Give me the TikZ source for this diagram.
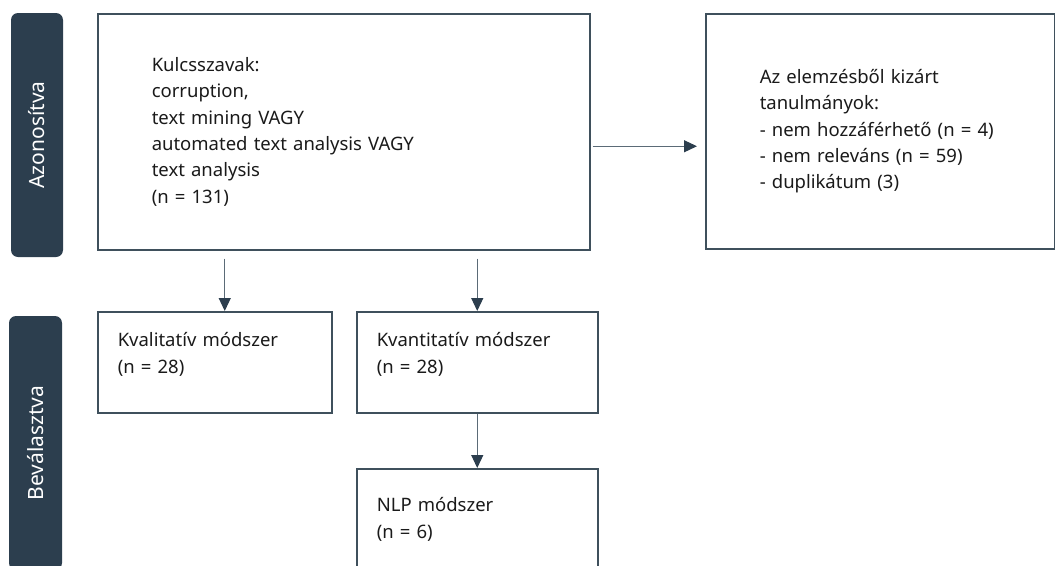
\documentclass[tikz,border=0pt]{standalone}
\usepackage{fontspec}
\setmainfont{Noto Sans}
\usetikzlibrary{arrows.meta}
\definecolor{navy}{HTML}{2C3E4E}
\definecolor{boxc}{HTML}{3F505C}
\definecolor{linec}{HTML}{5B6B77}
\definecolor{txt}{HTML}{1A1A1A}
\begin{document}
\begin{tikzpicture}[x=1pt,y=-1pt,
  box/.style={draw=boxc, line width=1.5pt, rectangle, anchor=north west, align=left, text=txt,
    font=\fontsize{18.5}{26.3}\selectfont},
  raised/.style={text height=14pt, text depth=45pt},
  bar/.style={fill=navy, rounded corners=7pt, text=white, rotate=90, font=\fontsize{21}{24}\selectfont},
  arr/.style={draw=linec, line width=1.2pt, -{Triangle[length=13pt,width=12pt,fill=navy,color=navy]}}
]
\useasboundingbox (0,0) rectangle (1055,565);
\clip (0,0) rectangle (1055,565);

\node[bar, minimum width=244pt, minimum height=52pt] (b1) at (37,135) {Azonosítva};
\node[bar, minimum width=254pt, minimum height=53pt] (b2) at (35.5,443) {Beválasztva};

\node[box, minimum width=492pt, minimum height=236pt, inner xsep=54pt, text width=384pt] (main) at (97,13)
  {Kulcsszavak:\\corruption,\\text mining VAGY\\automated text analysis VAGY\\text analysis\\(n = 131)};
\node[box, minimum width=349pt, minimum height=235pt, inner xsep=54pt, text width=241pt] (excl) at (705,13)
  {Az elemzésből kizárt\\tanulmányok:\\- nem hozzáférhető (n = 4)\\- nem releváns (n = 59)\\- duplikátum (3)};
\node[box, raised, minimum width=234pt, minimum height=101pt, inner xsep=20pt, text width=194pt] (kval) at (97,311)
  {Kvalitatív módszer\\(n = 28)};
\node[box, raised, minimum width=241pt, minimum height=101pt, inner xsep=20pt, text width=201pt] (kvant) at (356,311)
  {Kvantitatív módszer\\(n = 28)};
\node[box, minimum width=241pt, minimum height=101pt, inner xsep=20pt, text width=201pt] (nlp) at (356,468)
  {NLP módszer\\(n = 6)};

\coordinate (a1) at ([xshift=10pt]kval.north);
\coordinate (a2) at (kvant.north);
\coordinate (a3) at ([yshift=-15pt]excl.west);
\draw[arr, shorten <=8pt] (main.south -| a1) -- (a1);
\draw[arr, shorten <=8pt] (main.south -| a2) -- (a2);
\draw[arr, shorten >=8pt, shorten <=2pt] (main.east |- a3) -- (a3);
\draw[arr] (kvant.south) -- (nlp.north);
\end{tikzpicture}
\end{document}
